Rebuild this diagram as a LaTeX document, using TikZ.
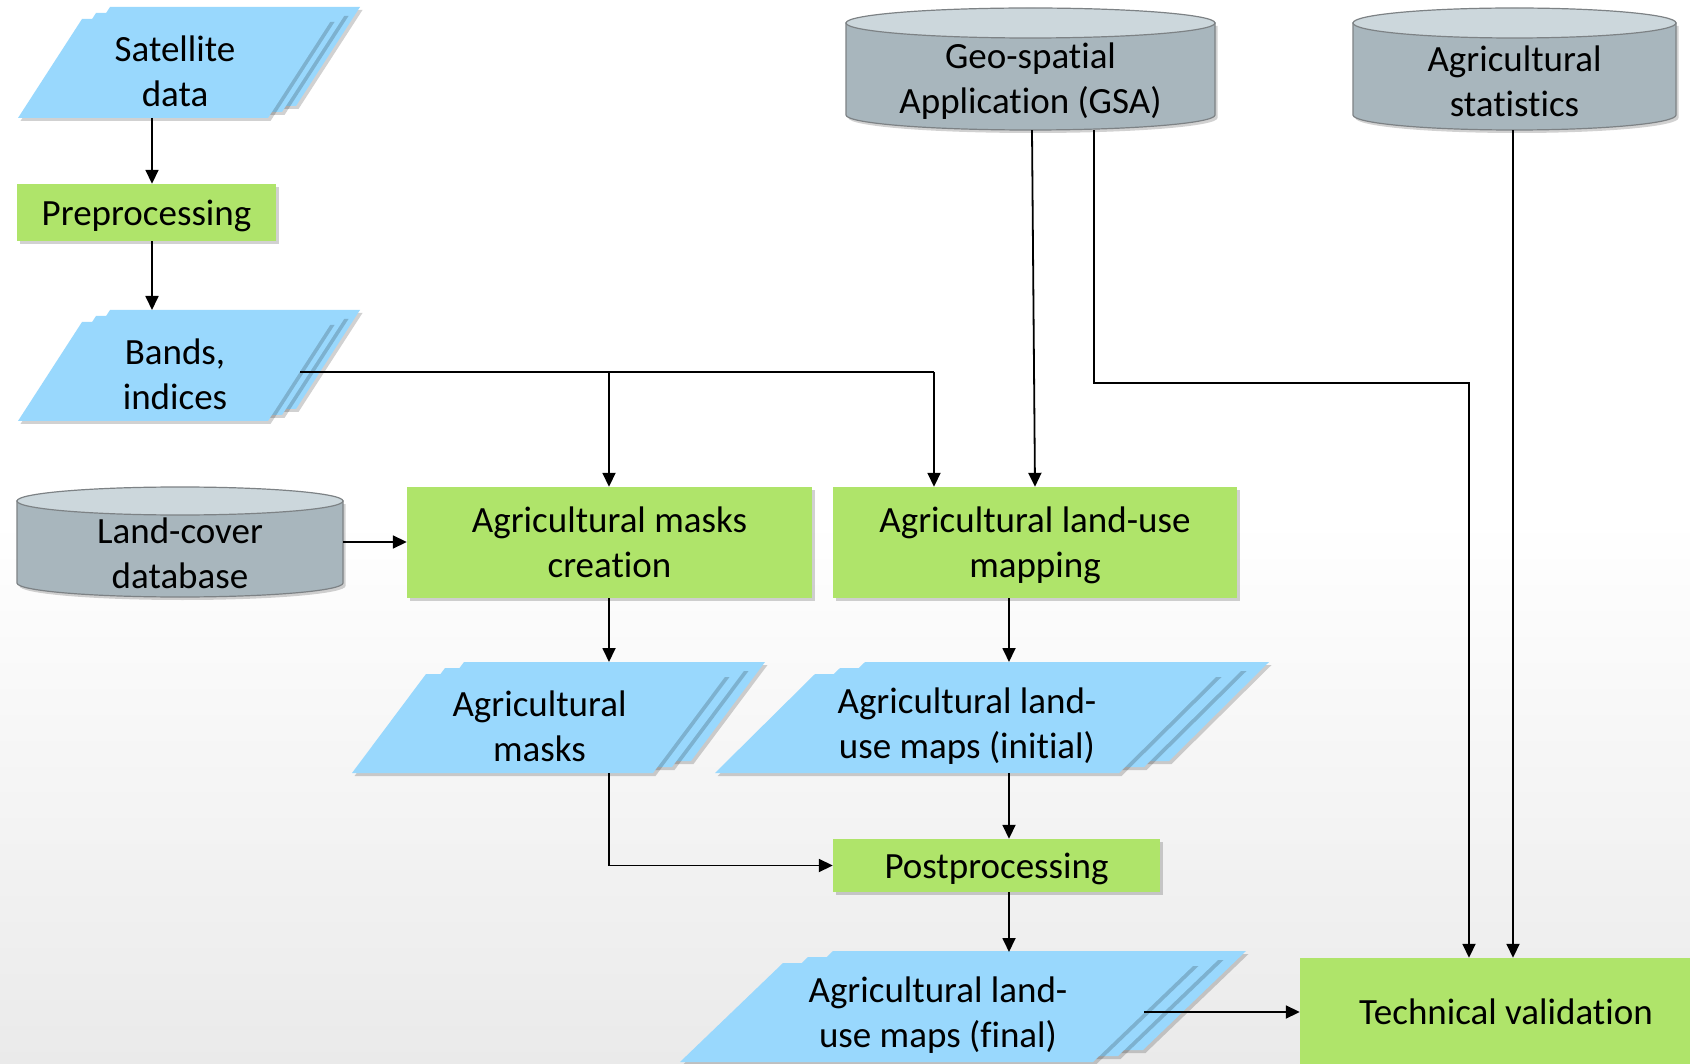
\documentclass[tikz,border=0pt]{standalone}
\usepackage{fontspec}
\setmainfont{Carlito}[Ligatures=NoCommon]
\usetikzlibrary{arrows.meta,shadows,calc}
\definecolor{docblue}{RGB}{153,216,253}
\definecolor{procgreen}{RGB}{175,228,106}
\definecolor{cylbodyc}{RGB}{168,182,189}
\definecolor{cyltopc}{RGB}{204,215,220}
\definecolor{cyledge}{RGB}{125,130,133}
\definecolor{bggray}{RGB}{234,234,234}
\newcommand\txtfont{\fontsize{37}{45}\selectfont}
\tikzset{
 shad/.style={drop shadow={shadow xshift=2.5pt, shadow yshift=-3pt, opacity=0.18, fill=black}},
 docfill/.style={fill=docblue, shad},
 gbox/.style={rectangle, fill=procgreen, shad, inner sep=0pt, align=center, font=\txtfont, text depth=0pt},
 txt/.style={inner sep=0pt, align=center, font=\txtfont},
 cylbody/.style={fill=cylbodyc, draw=cyledge, line width=1.2pt, shad},
 cyltop/.style={fill=cyltopc, draw=cyledge, line width=1.2pt},
 ghost/.style={inner sep=0pt, draw=none, fill=none},
 arr/.style={draw=black, line width=1.8pt, -{Triangle[length=14pt,width=13pt]}},
 conn/.style={draw=black, line width=1.8pt},
}
% #1 name, #2 bottom-left x, #3 bottom y, #4 width, #5 slant, #6 layer dx, #7 text
\newcommand\docstack[7]{%
 \foreach \k in {2,1,0} {%
   \fill[docfill] ({#2+\k*#6},{#3-\k*6}) -- ++(#4,0) -- ++(#5,-99) -- ++(-#4,0) -- cycle;
 }%
 \node[txt] (#1) at ({#2+(#4+#5)/2},{#3-47}) {#7};
}
% #1 name, #2 xl, #3 xr, #4 y top-ellipse centre, #5 y bottom-ellipse centre, #6 ry, #7 text y, #8 text
\newcommand\dbcyl[8]{%
 \path[cylbody] (#2,#4) -- (#2,#5) arc[start angle=180,end angle=360,x radius={(#3-#2)/2*1pt},y radius=#6pt] -- (#3,#4) -- cycle;
 \draw[cyltop] ({(#2+#3)/2},#4) ellipse[x radius={(#3-#2)/2*1pt}, y radius=#6pt];
 \node[ghost, minimum width={(#3-#2)*1pt}, minimum height={(#5-#4+2*#6)*1pt}] (#1) at ({(#2+#3)/2},{(#4+#5)/2}) {};
 \node[txt] (#1-t) at ({(#2+#3)/2},#7) {#8};
}
\begin{document}
\begin{tikzpicture}[x=1pt,y=-1pt]
\useasboundingbox (0,0) rectangle (1690,1064);
\clip (0,0) rectangle (1690,1064);
\fill[white] (0,0) rectangle (1690,1064);
\shade[top color=white, bottom color=bggray] (0,520) rectangle (1690,1064);

% documents
\docstack{sat}{18}{118}{250}{64}{14}{Satellite\\data}
\docstack{bands}{18}{421}{250}{64}{14}{Bands,\\indices}
\docstack{masks}{352}{773}{301}{74}{19}{Agricultural\\masks}
\docstack{initial}{715}{773}{404}{100}{25}{Agricultural land-\\use maps (initial)}
\docstack{final}{680}{1062}{413}{103}{25}{Agricultural land-\\use maps (final)}

% databases
\dbcyl{gsa}{846}{1215}{23}{115}{15}{81}{Geo-spatial\\Application (GSA)}
\dbcyl{stats}{1353}{1676}{23}{115}{15}{81}{Agricultural\\statistics}
\dbcyl{lc}{17}{343}{501}{583}{14}{553}{Land-cover\\database}

% processes
\node[gbox, minimum width=259pt, minimum height=57pt] (pre) at (146.5,212.5) {Preprocessing};
\node[gbox, minimum width=405pt, minimum height=111pt] (amc) at (609.5,542.5) {Agricultural masks\\creation};
\node[gbox, minimum width=404pt, minimum height=111pt] (alm) at (1035,542.5) {Agricultural land-use\\mapping};
\node[gbox, minimum width=327pt, minimum height=53pt] (post) at (996.5,865.5) {Postprocessing};
\node[gbox, minimum width=412pt, minimum height=108pt] (tv) at (1506,1012) {Technical validation};

% anchor points on document shapes
\coordinate (sat-s) at (152,118);
\coordinate (bands-n) at (152,310);
\coordinate (bands-e) at (300,372);
\coordinate (masks-n) at (609,662);
\coordinate (masks-s) at (609,773);
\coordinate (initial-n) at (1009,662);
\coordinate (initial-s) at (1009,773);
\coordinate (final-n) at (1009,952);
\coordinate (final-e) at (1144,1012);

% connectors
\draw[arr] (sat-s) -- (sat-s |- pre.north);
\draw[arr] (pre.south -| sat-s) -- (bands-n);
\draw[conn] (bands-e) -- (934,372);
\draw[arr] (609,372) -- (609,372 |- amc.north);
\draw[arr] (934,372) -- (934,372 |- alm.north);
\draw[arr] (lc.east) -- (amc.west |- lc.east);
\draw[arr] ([xshift=1.5pt]gsa.south) -- (alm.north);
\draw[arr] ([xshift=63.5pt]gsa.south) |- (1469,383) -- (1469,383 |- tv.north);
\draw[arr] ([xshift=-1.5pt]stats.south) -- ([xshift=7pt]tv.north);
\draw[arr] (amc.south -| masks-n) -- (masks-n);
\draw[arr] (alm.south -| initial-n) -- (initial-n);
\draw[arr] (masks-s) |- (post.west);
\draw[arr] (initial-s) -- (initial-s |- post.north);
\draw[arr] (post.south -| final-n) -- (final-n);
\draw[arr] (final-e) -- (tv.west);
\end{tikzpicture}
\end{document}
